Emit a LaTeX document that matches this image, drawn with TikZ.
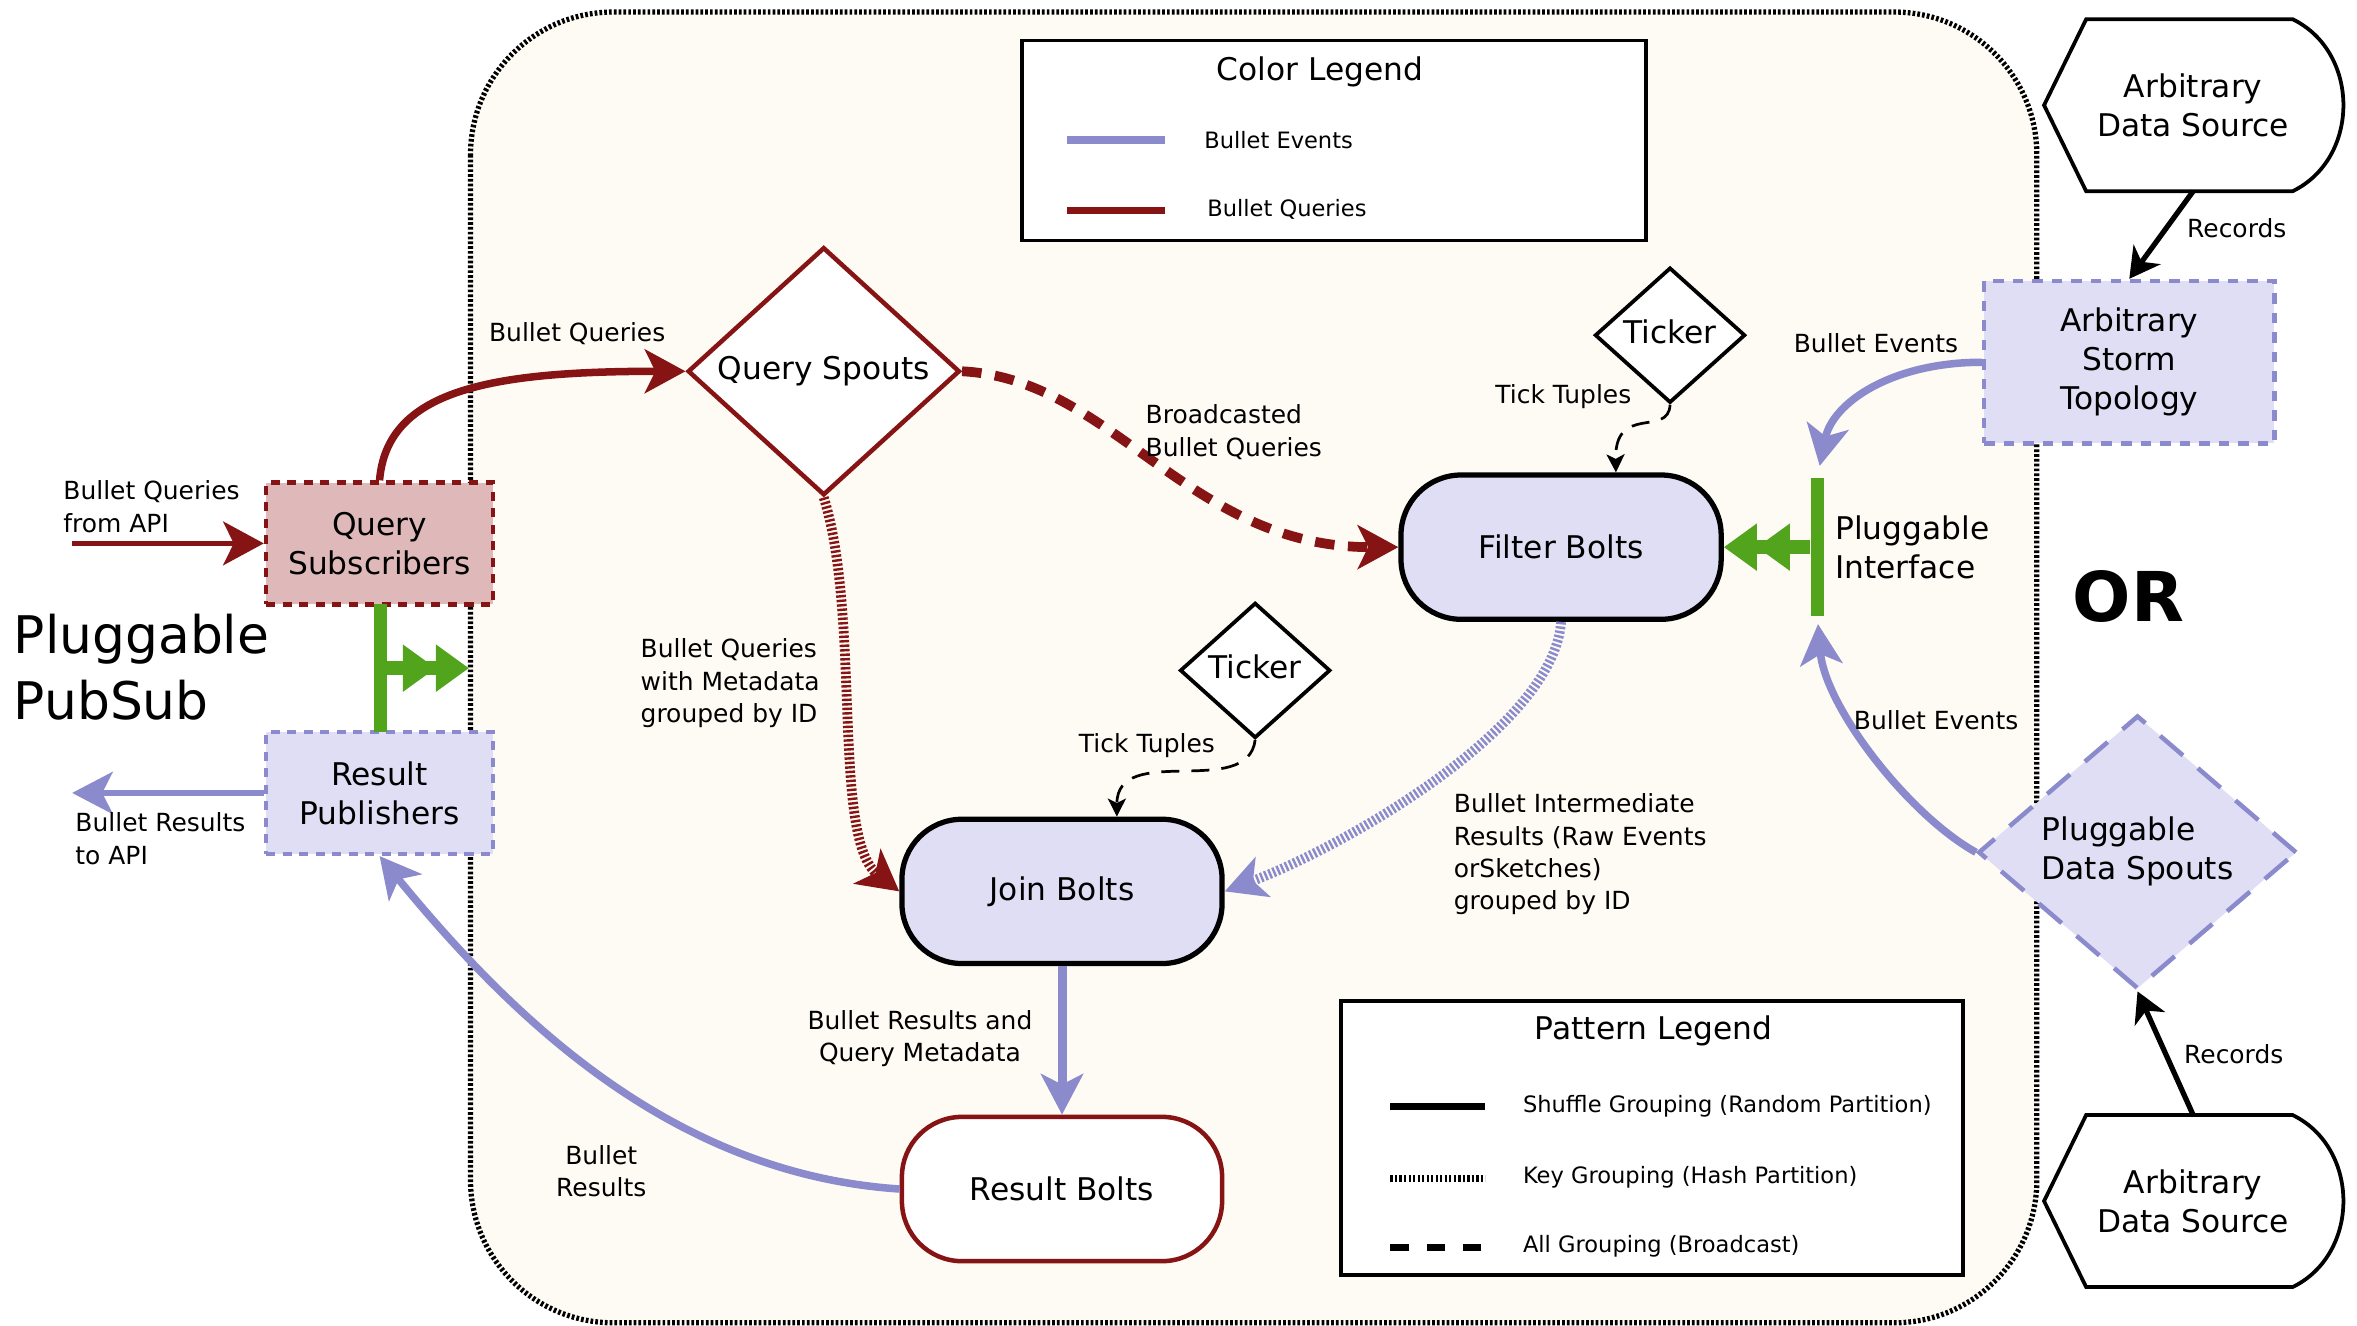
\documentclass[tikz,border=0pt]{standalone}
\usepackage{fontspec}
\setmainfont{DejaVu Sans}
\usepackage{tikz}
\usetikzlibrary{positioning, shapes.geometric, arrows.meta, calc}
\usepackage{xcolor}

\definecolor{queryred}{HTML}{861414}
\definecolor{eventblue}{HTML}{8A8ACC}
\definecolor{boltfill}{HTML}{DFDEF4}
\definecolor{subfill}{HTML}{DFB9B9}
\definecolor{plugreen}{HTML}{52A41C}
\definecolor{stormbg}{HTML}{FDFBF3}

\newcommand{\inbox}[1]{\makebox[0pt]{\begin{tabular}{@{}l@{}}#1\end{tabular}}}

\begin{document}
\begin{tikzpicture}[x=1pt, y=-1pt,
    nodetext/.style={font=\fontsize{20.8}{26}\selectfont},
    edgetext/.style={font=\fontsize{16.6}{21.5}\selectfont, align=left, inner sep=0pt},
    legendtext/.style={font=\fontsize{15}{19}\selectfont, anchor=west, inner sep=0pt},
    bolt/.style={nodetext, draw, line width=3.5pt, rounded corners=40pt, minimum width=213pt, minimum height=96pt},
    ticker/.style={nodetext, diamond, draw, fill=white, line width=2.5pt, inner sep=0pt, minimum width=100pt, minimum height=90pt},
    pubsub/.style={nodetext, align=center, line width=3pt, dash pattern=on 6pt off 5pt, minimum width=151pt, minimum height=81pt},
    datasource/.style={nodetext, align=center, inner sep=0pt, minimum width=198pt, minimum height=114pt},
    greenbar/.style={fill=plugreen, inner sep=0pt, minimum width=9pt},
    plug/.style={draw=plugreen, line width=9pt, -{Triangle[length=22pt,width=30pt]Triangle[length=22pt,width=30pt]}},
    events/.style={draw=eventblue, line width=5pt, -{Stealth[length=27pt,width=28pt,inset=7pt]}},
    queries/.style={draw=queryred, line width=5pt, -{Stealth[length=27pt,width=29pt,inset=7pt]}},
    keygroup/.style={line width=6.5pt, dash pattern=on 1.6pt off 1.4pt},
    allgroup/.style={line width=6.5pt, dash pattern=on 13pt off 9pt},
    records/.style={line width=3.5pt, -{Stealth[length=20pt,width=22pt,inset=6pt]}},
    tickline/.style={line width=1.8pt, dash pattern=on 12pt off 8pt, -{Stealth[length=12pt,width=12pt,inset=3pt]}},
  ]
    \useasboundingbox (0,0) rectangle (1568,882);

    % storm topology frame
    \draw[fill=stormbg, line width=3.5pt, dash pattern=on 1.8pt off 1.4pt, rounded corners=95pt] (313,8) rectangle (1355,880);

    % legends
    \draw[fill=white, line width=2.4pt] (680,27) rectangle (1095,160);
    \node[nodetext] (colortitle) at (878,48) {Color Legend};
    \draw[eventblue, line width=5pt] (710,93) -- (775,93);
    \node[legendtext] (eventkey) at (801,93) {Bullet Events};
    \draw[queryred, line width=5pt] (710,140) -- (775,140);
    \node[legendtext] (querykey) at (803,139) {Bullet Queries};

    \draw[fill=white, line width=2.4pt] (892,666) rectangle (1306,848);
    \node[nodetext] (patterntitle) at (1100,686) {Pattern Legend};
    \draw[line width=5pt] (925,736) -- (988,736);
    \node[legendtext] (shufflekey) at (1013,736) {Shuffle Grouping (Random Partition)};
    \draw[keygroup, line width=5pt] (925,784) -- (988,784);
    \node[legendtext] (keykey) at (1013,783) {Key Grouping (Hash Partition)};
    \draw[line width=5pt, dash pattern=on 12pt off 12pt] (925,830) -- (988,830);
    \node[legendtext] (allkey) at (1013,829) {All Grouping (Broadcast)};

    % pubsub side
    \node[pubsub, draw=queryred, fill=subfill] (qsub) at (252.5,361.5) {Query\\Subscribers};
    \node[pubsub, draw=eventblue, fill=boltfill] (rpub) at (252.5,527.5) {Result\\Publishers};
    \node[greenbar, minimum height=85pt] (psbar) at (253,444.5) {};
    \node[font=\fontsize{34.5}{44}\selectfont, align=left, anchor=west, inner sep=0pt] (pubsubtext) at (9,444) {Pluggable\\PubSub};

    % spouts and bolts
    \node[nodetext, diamond, draw=queryred, fill=white, line width=3pt, inner sep=0pt, minimum width=181pt, minimum height=165pt] (qspouts) at (548,247) {\inbox{Query Spouts}};
    \node[bolt, fill=boltfill] (fbolts) at (1038.5,364) {Filter Bolts};
    \node[bolt, fill=boltfill] (jbolts) at (706.5,593) {Join Bolts};
    \node[bolt, draw=queryred, fill=white, line width=3pt] (rbolts) at (706.5,791) {Result Bolts};
    \node[ticker] (tickf) at (1111,223) {\inbox{Ticker}};
    \node[ticker] (tickj) at (835,446) {\inbox{Ticker}};

    % data side
    \node[nodetext, align=center, draw=eventblue, fill=boltfill, line width=3pt, dash pattern=on 7pt off 6pt, minimum width=193pt, minimum height=108pt] (storm) at (1416.5,241) {Arbitrary\\Storm\\Topology};
    \node[datasource] (srctop) at (1459,70) {Arbitrary\\Data Source};
    \node[datasource] (srcbot) at (1459,799) {Arbitrary\\Data Source};
    \foreach \s in {srctop, srcbot}
        \draw[line width=2.5pt] (\s.west) -- ([xshift=28pt]\s.north west) -- ([xshift=-33pt]\s.north east)
            .. controls +(45,22) and +(45,-22) .. ([xshift=-33pt]\s.south east) -- ([xshift=28pt]\s.south west) -- cycle;
    \node[nodetext, diamond, draw=eventblue, fill=boltfill, line width=3pt, dash pattern=on 20pt off 13pt, inner sep=0pt, minimum width=212pt, minimum height=182pt] (dspouts) at (1422,567) {\inbox{Pluggable\\Data Spouts}};
    \node[greenbar, minimum height=92pt] (iface) at (1209,364) {};
    \node[nodetext, align=left, inner sep=0pt, right=7pt of iface] (ifacetext) {Pluggable\\Interface};
    \node[font=\fontsize{45.7}{50}\selectfont\bfseries] (ortext) at (1416,397) {OR};

    % connectors
    \coordinate (apiin) at (48,361.5);
    \coordinate (apiout) at (48,527.5);
    \coordinate (pubsubtip) at (312,444.5);
    \draw[queries, line width=3.5pt] (apiin) -- (qsub.west);
    \draw[events, line width=3.5pt] (rpub.west) -- (apiout);
    \draw[plug] (psbar.east) -- (pubsubtip);
    \draw[queries] (qsub.north) .. controls +(5,-60) and +(-130,0) .. (qspouts.west);
    \draw[queries, allgroup] (qspouts.east) .. controls +(100,5) and +(-140,0) .. (fbolts.west);
    \draw[queries, keygroup] (qspouts.south) .. controls +(25,80) and +(-45,-35) .. (jbolts.west);
    \draw[events, keygroup] (fbolts.south) .. controls +(-5,70) and +(80,-30) .. (jbolts.east);
    \draw[tickline] (tickf.south) .. controls +(-1,22) and +(-1,-46) .. ([xshift=36.5pt]fbolts.north);
    \draw[tickline] (tickj.south) .. controls +(-5,40) and +(0,-50) .. ([xshift=36.5pt]jbolts.north);
    \draw[events, line width=6pt] (jbolts.south) -- (rbolts.north);
    \draw[events] (rbolts.west) .. controls +(-150,-10) and +(90,110) .. (rpub.south);
    \draw[events, shorten >=8pt] (storm.west) .. controls +(-60,0) and +(10,-50) .. (iface.north);
    \draw[events, shorten >=5pt] (dspouts.west) .. controls +(-45,-25) and +(5,60) .. (iface.south);
    \draw[plug] (iface.west) -- (fbolts.east);
    \draw[records] (srctop.south) -- (storm.north);
    \draw[records] (srcbot.north) -- (dspouts.south);

    % connector labels
    \node[edgetext] (querylabel) at (384,222) {Bullet Queries};
    \node[edgetext, anchor=west] (apiinlabel) at (42,337) {Bullet Queries\\from API};
    \node[edgetext, anchor=west] (apioutlabel) at (50,558) {Bullet Results\\to API};
    \node[edgetext, anchor=west] (bcastlabel) at (762,287.5) {Broadcasted\\Bullet Queries};
    \node[edgetext, anchor=west] (metalabel) at (426,454.5) {Bullet Queries\\with Metadata\\grouped by ID};
    \node[edgetext] (tickflabel) at (1040,264) {Tick Tuples};
    \node[edgetext] (tickjlabel) at (763,496) {Tick Tuples};
    \node[edgetext, anchor=west] (interlabel) at (967,568.5) {Bullet Intermediate\\Results (Raw Events\\orSketches)\\grouped by ID};
    \node[edgetext, align=center] (joinlabel) at (612,691) {Bullet Results and\\Query Metadata};
    \node[edgetext, align=center] (resultlabel) at (400,779) {Bullet\\Results};
    \node[edgetext] (stormlabel) at (1248,228) {Bullet Events};
    \node[edgetext] (spoutlabel) at (1288,479) {Bullet Events};
    \node[edgetext] (recordstop) at (1488,152) {Records};
    \node[edgetext] (recordsbot) at (1486,701) {Records};
\end{tikzpicture}
\end{document}
